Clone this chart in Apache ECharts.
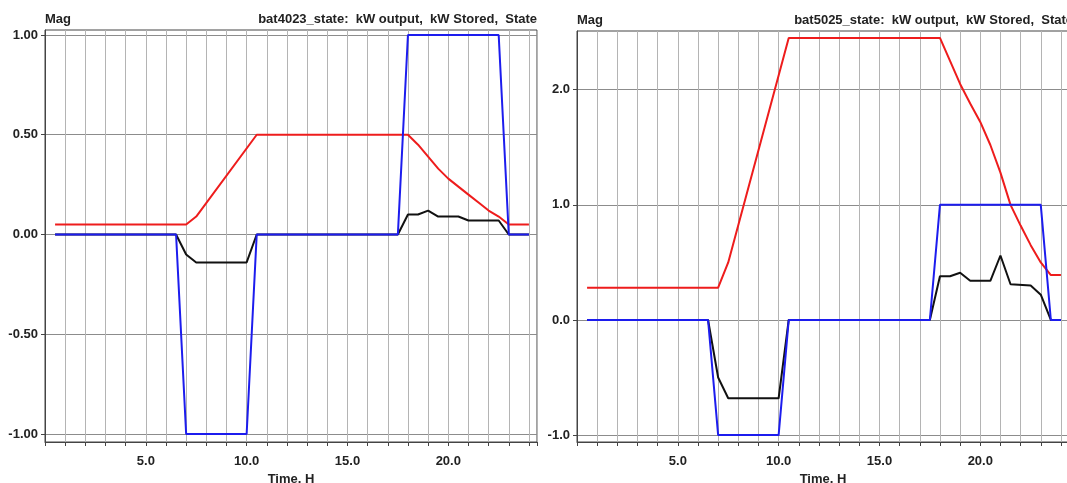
<!DOCTYPE html>
<html><head><meta charset="utf-8">
<script src="https://cdn.jsdelivr.net/npm/echarts@6/dist/echarts.min.js"></script>
<style>html,body{margin:0;padding:0;background:#fff}#c{width:1067px;height:483px}</style>
</head><body><div id="c"></div>
<script>
// ---- Data ----
const titleL = 'bat4023_state:  kW output,  kW Stored,  State';
const titleR = 'bat5025_state:  kW output,  kW Stored,  State';
const yTicksL = [-1, -0.5, 0, 0.5, 1];
const yTicksR = [-1, 0, 1, 2];
const xLabelValues = [5, 10, 15, 20];

// Left chart: bat4023
const redT_L   = [0.5, 7.0, 7.5, 10.5, 18.0, 18.5, 19.0, 19.5, 20.0, 20.5, 21.0, 21.5, 22.0, 22.5, 23.0, 24.0];
const redV_L   = [0.05, 0.05, 0.09, 0.50, 0.50, 0.45, 0.39, 0.33, 0.28, 0.24, 0.20, 0.16, 0.12, 0.09, 0.05, 0.05];
const blueT_L  = [0.5, 6.5, 7.0, 10.0, 10.5, 17.5, 18.0, 22.5, 23.0, 24.0];
const blueV_L  = [0, 0, -1, -1, 0, 0, 1, 1, 0, 0];
const blackT_L = [0.5, 6.5, 7.0, 7.5, 10.0, 10.5, 17.5, 18.0, 18.5, 19.0, 19.5, 20.5, 21.0, 22.5, 23.0, 24.0];
const blackV_L = [0, 0, -0.10, -0.14, -0.14, 0, 0, 0.10, 0.10, 0.12, 0.09, 0.09, 0.07, 0.07, 0, 0];

// Right chart: bat5025
const redT_R   = [0.5, 7.0, 7.5, 10.5, 18.0, 18.5, 19.0, 19.5, 20.0, 20.5, 21.0, 21.5, 22.0, 22.5, 23.0, 23.5, 24.0];
const redV_R   = [0.28, 0.28, 0.50, 2.45, 2.45, 2.25, 2.05, 1.88, 1.72, 1.52, 1.28, 1.00, 0.82, 0.65, 0.50, 0.39, 0.39];
const blueT_R  = [0.5, 6.5, 7.0, 10.0, 10.5, 17.5, 18.0, 23.0, 23.5, 24.0];
const blueV_R  = [0, 0, -1, -1, 0, 0, 1, 1, 0, 0];
const blackT_R = [0.5, 6.5, 7.0, 7.5, 10.0, 10.5, 17.5, 18.0, 18.5, 19.0, 19.5, 20.5, 21.0, 21.5, 22.5, 23.0, 23.5, 24.0];
const blackV_R = [0, 0, -0.50, -0.68, -0.68, 0, 0, 0.38, 0.38, 0.41, 0.34, 0.34, 0.56, 0.31, 0.30, 0.22, 0, 0];

// ---- Styling ----
const FONT = '"Liberation Sans", Arial, sans-serif';
const txt = {fontFamily: FONT, fontWeight: 'bold', fontSize: 13, color: '#222'};
const RED = '#ee1c1c', BLUE = '#1c1cee', BLACK = '#111111';

const pairs = (t, v) => t.map((x, i) => [x, v[i]]);

function xAxis(gi) {
  return {
    gridIndex: gi, type: 'value', min: 0, max: 24.4, interval: 1,
    name: 'Time, H', nameLocation: 'middle', nameGap: 29,
    nameTextStyle: {fontFamily: FONT, fontWeight: 'bold', fontSize: 13, color: '#222'},
    axisLine: {show: true, onZero: false, lineStyle: {color: '#444', width: 1}},
    axisTick: {show: true, length: 4, lineStyle: {color: '#444'}},
    axisLabel: Object.assign({margin: 13,
      formatter: v => xLabelValues.indexOf(Math.round(v * 10) / 10) >= 0 ? v.toFixed(1) : ''}, txt),
    splitLine: {show: true, lineStyle: {color: '#b4b4b4', width: 1}}
  };
}
function yAxis(gi, min, max, ticks, dec) {
  return {
    gridIndex: gi, type: 'value', min: min, max: max,
    axisLine: {show: true, onZero: false, lineStyle: {color: '#444', width: 1}},
    axisTick: {show: true, length: 4, customValues: ticks, lineStyle: {color: '#444'}},
    axisLabel: Object.assign({margin: 7, customValues: ticks, formatter: v => v.toFixed(dec)}, txt),
    splitLine: {show: true, lineStyle: {color: '#8c8c8c', width: 1}}
  };
}
function line(gi, t, v, color, z) {
  return {type: 'line', xAxisIndex: gi, yAxisIndex: gi, data: pairs(t, v),
    showSymbol: false, symbol: 'none', z: z,
    lineStyle: {color: color, width: 2}, itemStyle: {color: color}};
}

const chart = echarts.init(document.getElementById('c'), null, {renderer: 'canvas'});
chart.setOption({
  animation: false,
  backgroundColor: '#fff',
  grid: [
    {left: 45, top: 30, width: 492, height: 412, show: true, borderColor: '#444', borderWidth: 1,
     backgroundColor: '#fff', containLabel: false, outerBoundsMode: 'none'},
    {left: 577, top: 31, width: 492, height: 411, show: true, borderColor: '#444', borderWidth: 1,
     backgroundColor: '#fff', containLabel: false, outerBoundsMode: 'none'}
  ],
  xAxis: [xAxis(0), xAxis(1)],
  yAxis: [yAxis(0, -1.04, 1.025, yTicksL, 2), yAxis(1, -1.06, 2.51, yTicksR, 1)],
  series: [
    line(0, blackT_L, blackV_L, BLACK, 2),
    line(0, redT_L, redV_L, RED, 3),
    line(0, blueT_L, blueV_L, BLUE, 4),
    line(1, blackT_R, blackV_R, BLACK, 2),
    line(1, redT_R, redV_R, RED, 3),
    line(1, blueT_R, blueV_R, BLUE, 4)
  ],
  graphic: [
    {type: 'text', left: 45, top: 13, style: {text: 'Mag', font: 'bold 13px ' + FONT, fill: '#222'}},
    {type: 'text', left: 577, top: 14, style: {text: 'Mag', font: 'bold 13px ' + FONT, fill: '#222'}},
    {type: 'text', x: 537, y: 13, style: {text: titleL, font: 'bold 13px ' + FONT, fill: '#222', textAlign: 'right'}},
    {type: 'text', x: 1073, y: 14, style: {text: titleR, font: 'bold 13px ' + FONT, fill: '#222', textAlign: 'right'}}
  ]
});
</script>
</body></html>
